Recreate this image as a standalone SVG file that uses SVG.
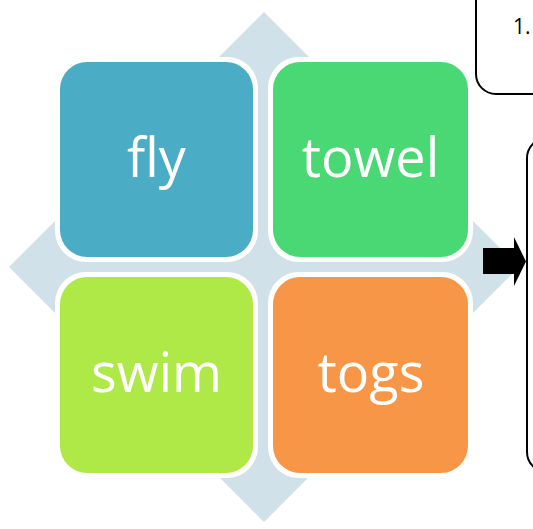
<svg xmlns="http://www.w3.org/2000/svg" width="533" height="529" viewBox="0 0 533 529">
<style>
.lbl{font-family:"Open Sans","Noto Sans",sans-serif;font-size:54px;fill:#ffffff;text-anchor:middle}
.brd{fill:#ffffff}
.box{stroke:none}
.frame{fill:#ffffff;stroke:#000000;stroke-width:2}
</style>
<rect width="533" height="529" fill="#ffffff"/>
<g id="bg-arrow">
<polygon fill="#D0E1E9" points="264,12 310,58 310,221 473,221 519,267 473,313 310,313 310,476 264,522 218,476 218,313 55,313 9,267 55,221 218,221 218,58"/>
</g>
<g id="fly">
<rect class="brd" x="55" y="57" width="203" height="205" rx="31"/>
<rect class="box" x="60" y="62" width="193" height="195" rx="27" fill="#4BACC6"/>
<text class="lbl" x="156.5" y="177">fly</text>
</g>
<g id="towel">
<rect class="brd" x="268" y="57" width="205" height="205" rx="31"/>
<rect class="box" x="273" y="62" width="195" height="195" rx="27" fill="#4AD874"/>
<text class="lbl" x="370.5" y="177">towel</text>
</g>
<g id="swim">
<rect class="brd" x="55" y="272" width="203" height="206" rx="31"/>
<rect class="box" x="60" y="277" width="193" height="196" rx="27" fill="#AEE948"/>
<text class="lbl" x="156.5" y="392">swim</text>
</g>
<g id="togs">
<rect class="brd" x="268" y="272" width="205" height="206" rx="31"/>
<rect class="box" x="273" y="277" width="195" height="196" rx="27" fill="#F79646"/>
<text class="lbl" x="371" y="392">togs</text>
</g>
<g id="note-top">
<rect class="frame" x="476" y="-20" width="100" height="114" rx="20"/>
<text x="513" y="33.5" style="font-family:'Open Sans','Noto Sans',sans-serif;font-size:21px;fill:#000000">1.</text>
</g>
<g id="note-big">
<rect class="frame" x="527" y="138" width="100" height="334" rx="20"/>
</g>
<g id="connectors">
<polygon fill="#000000" points="483,248 514,248 514,237 526,261.5 514,286 514,274 483,274"/>
</g>
</svg>
